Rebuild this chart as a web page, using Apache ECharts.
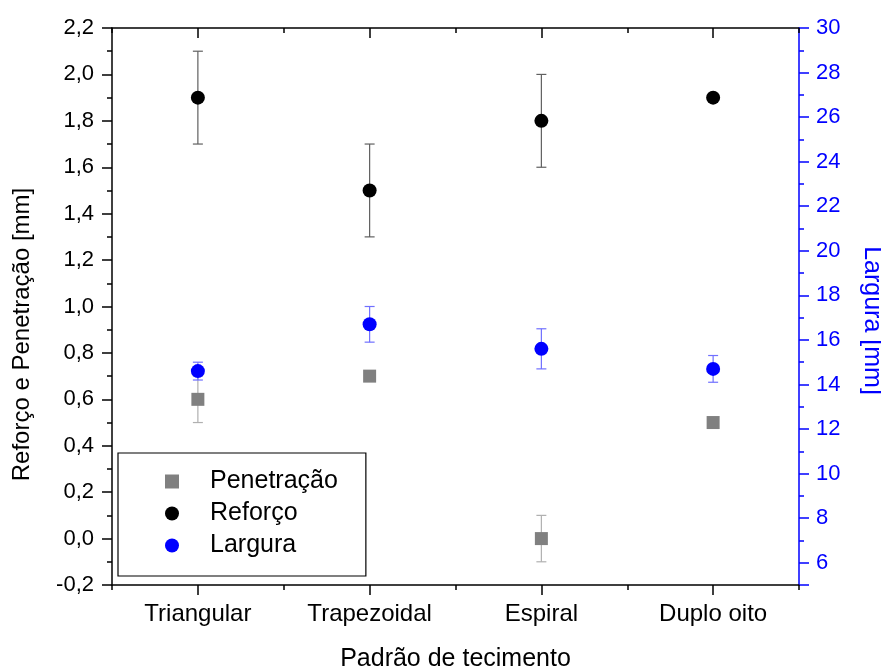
<!DOCTYPE html>
<html>
<head>
<meta charset="utf-8">
<script src="https://cdn.jsdelivr.net/npm/echarts@6/dist/echarts.min.js"></script>
<style>
  html, body { margin: 0; padding: 0; background: #fff; }
  #chart { width: 881px; height: 669px; }
</style>
</head>
<body>
<div id="chart"></div>
<script>
const categories = ['Triangular', 'Trapezoidal', 'Espiral', 'Duplo oito'];

// Penetração e Reforço (eixo esquerdo, mm)
const penetracao = [0.6, 0.7, 0.0, 0.5];
const penetracaoErr = [0.1, 0, 0.1, 0];
const reforco = [1.9, 1.5, 1.8, 1.9];
const reforcoErr = [0.2, 0.2, 0.2, 0];

// Largura (eixo direito, mm)
const largura = [14.6, 16.7, 15.6, 14.7];
const larguraErr = [0.4, 0.8, 0.9, 0.6];

const FONT = 'Liberation Sans, Arial, sans-serif';
const BLUE = '#0000ff';

const chart = echarts.init(document.getElementById('chart'));

// barras de erro [indice, min, max]
const errData = (vals, errs) =>
  vals.map((v, i) => [i, v - errs[i], v + errs[i]]).filter((d, i) => errs[i] > 0);

const errSeries = (name, vals, errs, color, yIdx) => ({
  name: name,
  type: 'custom',
  xAxisIndex: 0,
  yAxisIndex: yIdx,
  z: 1,
  silent: true,
  encode: { x: 0, y: [1, 2] },
  data: errData(vals, errs),
  renderItem: function (params, api) {
    const lo = api.coord([api.value(0), api.value(1)]);
    const hi = api.coord([api.value(0), api.value(2)]);
    const hw = 5;
    const st = { stroke: color, lineWidth: 1.2 };
    return {
      type: 'group',
      children: [
        { type: 'line', shape: { x1: lo[0], y1: lo[1], x2: hi[0], y2: hi[1] }, style: st },
        { type: 'line', shape: { x1: lo[0] - hw, y1: lo[1], x2: lo[0] + hw, y2: lo[1] }, style: st },
        { type: 'line', shape: { x1: hi[0] - hw, y1: hi[1], x2: hi[0] + hw, y2: hi[1] }, style: st }
      ]
    };
  }
});

const catAxis = (extra) => Object.assign({
  type: 'category',
  data: categories,
  boundaryGap: true,
  axisLine: { show: false, onZero: false },
  axisLabel: { show: false },
  splitLine: { show: false }
}, extra);

const option = {
  animation: false,
  backgroundColor: '#fff',
  textStyle: { fontFamily: FONT },
  grid: { left: 112, right: 82, top: 28, bottom: 84, containLabel: false, outerBoundsMode: 'none' },
  legend: {
    orient: 'vertical',
    left: 118,
    top: 453,
    data: ['Penetração', 'Reforço', 'Largura'],
    itemWidth: 14,
    itemHeight: 14,
    itemGap: 7,
    padding: [16, 28, 18, 47],
    borderColor: '#000',
    borderWidth: 1.2,
    textStyle: { fontSize: 25, color: '#000', fontFamily: FONT, padding: [0, 0, 0, 26] }
  },
  xAxis: [
    catAxis({
      position: 'bottom',
      axisLine: { show: true, onZero: false, lineStyle: { color: '#000', width: 1.5 } },
      axisTick: { show: true, alignWithLabel: true, length: 10, lineStyle: { color: '#000', width: 1.5 } },
      axisLabel: { show: true, fontSize: 24, color: '#000', margin: 17, fontFamily: FONT },
      name: 'Padrão de tecimento',
      nameLocation: 'middle',
      nameGap: 62,
      nameTextStyle: { fontSize: 25, color: '#000', fontFamily: FONT }
    }),
    catAxis({
      position: 'bottom',
      axisTick: { show: true, length: 5, lineStyle: { color: '#000', width: 1.5 } }
    }),
    catAxis({
      position: 'top',
      axisLine: { show: true, onZero: false, lineStyle: { color: '#000', width: 1.5 } },
      axisTick: { show: true, inside: true, alignWithLabel: true, length: 10, lineStyle: { color: '#000', width: 1.5 } }
    }),
    catAxis({
      position: 'top',
      axisTick: { show: true, inside: true, length: 5, lineStyle: { color: '#000', width: 1.5 } }
    })
  ],
  yAxis: [
    {
      type: 'value',
      position: 'left',
      min: -0.2,
      max: 2.2,
      interval: 0.2,
      name: 'Reforço e Penetração [mm]',
      nameLocation: 'middle',
      nameGap: 78,
      nameTextStyle: { fontSize: 24, color: '#000', fontFamily: FONT, padding: [0, 56, 0, 0] },
      axisLine: { show: true, onZero: false, lineStyle: { color: '#000', width: 1.5 } },
      axisTick: { show: true, length: 10, lineStyle: { color: '#000', width: 1.5 } },
      minorTick: { show: true, splitNumber: 2, length: 5, lineStyle: { color: '#000', width: 1.5 } },
      axisLabel: {
        fontSize: 22, color: '#000', margin: 18, fontFamily: FONT,
        formatter: v => v.toFixed(1).replace('.', ',')
      },
      splitLine: { show: false }
    },
    {
      type: 'value',
      position: 'right',
      min: 5,
      max: 30,
      interval: 1,
      name: 'Largura [mm]',
      nameLocation: 'middle',
      nameRotate: -90,
      nameGap: 60,
      nameTextStyle: { fontSize: 25, color: BLUE, fontFamily: FONT, padding: [0, 0, 0, 28] },
      axisLine: { show: true, onZero: false, lineStyle: { color: BLUE, width: 1.5 } },
      axisTick: { show: true, length: 5, lineStyle: { color: BLUE, width: 1.5 } },
      axisLabel: {
        fontSize: 22, color: BLUE, margin: 17, fontFamily: FONT,
        formatter: v => (v % 2 === 0 ? String(v) : '')
      },
      splitLine: { show: false }
    },
    {
      // ticks maiores nos valores pares do eixo direito
      type: 'value',
      position: 'right',
      inverse: true,
      min: 0,
      max: 25,
      interval: 2,
      axisLine: { show: false, onZero: false },
      axisLabel: { show: false },
      axisTick: { show: true, length: 10, lineStyle: { color: BLUE, width: 1.5 } },
      splitLine: { show: false }
    }
  ],
  series: [
    errSeries('erro Penetração', penetracao, penetracaoErr, '#b0b0b0', 0),
    errSeries('erro Reforço', reforco, reforcoErr, '#606060', 0),
    errSeries('erro Largura', largura, larguraErr, '#7070ff', 1),
    {
      name: 'Penetração',
      type: 'scatter',
      xAxisIndex: 0,
      yAxisIndex: 0,
      z: 3,
      symbol: 'rect',
      symbolSize: 13,
      itemStyle: { color: '#808080', opacity: 1 },
      data: penetracao
    },
    {
      name: 'Reforço',
      type: 'scatter',
      xAxisIndex: 0,
      yAxisIndex: 0,
      z: 3,
      symbol: 'circle',
      symbolSize: 14,
      itemStyle: { color: '#000', opacity: 1 },
      data: reforco
    },
    {
      name: 'Largura',
      type: 'scatter',
      xAxisIndex: 0,
      yAxisIndex: 1,
      z: 4,
      symbol: 'circle',
      symbolSize: 14,
      itemStyle: { color: BLUE, opacity: 1 },
      data: largura
    }
  ]
};

chart.setOption(option);
</script>
</body>
</html>
